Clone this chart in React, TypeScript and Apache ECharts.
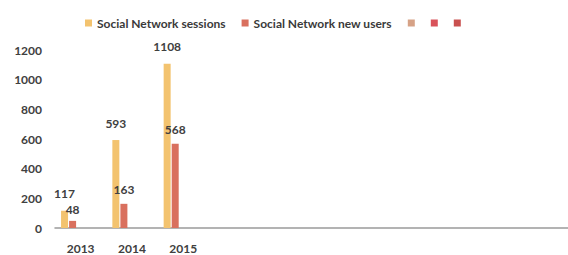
import React, { useEffect, useRef } from "react";
import * as echarts from "echarts";

const categories = ["2013", "2014", "2015", "", "", "", "", "", "", ""];
const sessions = [117, 593, 1108];
const newUsers = [48, 163, 568];
const seriesNames = ["Social Network sessions", "Social Network new users", "Series 3", "Series 4", "Series 5"];
const colors = ["#F3C36F", "#D9705E", "#D6A286", "#D9525A", "#C9504F"];
const yTicks = { min: 0, max: 1200, interval: 200 };

export default function App() {
  const ref = useRef<HTMLDivElement>(null);
  useEffect(() => {
    document.body.style.margin = "0";
    const chart = echarts.init(ref.current!, null, { renderer: "svg" });
    const font = "Lato";
    const labelCfg = (distance: number) => ({
      show: true,
      position: "top",
      distance,
      color: "#404040",
      fontFamily: font,
      fontSize: 12,
      fontWeight: "bold",
    });
    chart.setOption({
      animation: false,
      color: colors,
      legend: {
        left: 80,
        top: 12,
        itemWidth: 7,
        itemHeight: 7,
        itemGap: 16,
        icon: "rect",
        data: seriesNames,
        formatter: (n: string) => (n.startsWith("Series") ? "" : n),
        textStyle: { color: "#3a3a3a", fontFamily: font, fontSize: 12, fontWeight: "bold" },
      },
      grid: { left: 55, right: 0, top: 50, bottom: 27 },
      xAxis: {
        type: "category",
        data: categories,
        axisLine: { lineStyle: { color: "#9a9a9a", width: 1.5 } },
        axisTick: { show: false },
        axisLabel: { color: "#404040", fontFamily: font, fontSize: 12, fontWeight: "bold", margin: 14 },
      },
      yAxis: {
        type: "value",
        min: yTicks.min,
        max: yTicks.max,
        interval: yTicks.interval,
        splitLine: { show: false },
        axisLine: { show: false },
        axisTick: { show: false },
        axisLabel: {
          color: "#404040",
          fontFamily: font,
          fontSize: 12,
          fontWeight: "bold",
          margin: 13,
          formatter: (v: number) => String(v),
        },
      },
      series: [
        { name: seriesNames[0], type: "bar", data: sessions, barWidth: 7, barGap: "15%", label: labelCfg(11) },
        {
          name: seriesNames[1],
          type: "bar",
          data: newUsers.map((v, i) => (i === 0 ? { value: v, label: { distance: 5 } } : v)),
          barWidth: 7,
          barGap: "15%",
          label: labelCfg(8),
        },
        { name: seriesNames[2], type: "bar", data: [], barWidth: 7, barGap: "15%" },
        { name: seriesNames[3], type: "bar", data: [], barWidth: 7, barGap: "15%" },
        { name: seriesNames[4], type: "bar", data: [], barWidth: 7, barGap: "15%" },
      ],
    });
    return () => chart.dispose();
  }, []);
  return <div ref={ref} style={{ width: 568, height: 255 }} />;
}
